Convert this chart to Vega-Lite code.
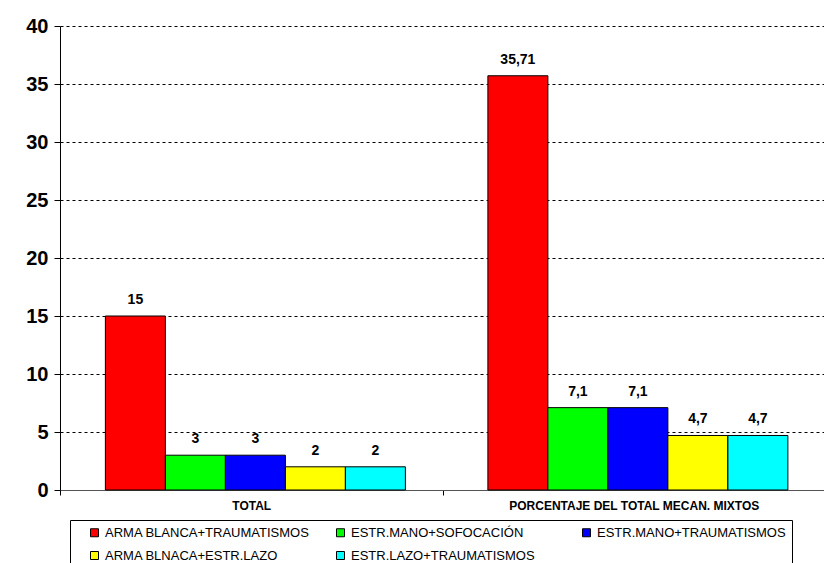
{
  "$schema": "https://vega.github.io/schema/vega-lite/v6.json",
  "width": 765,
  "height": 464,
  "autosize": {"type": "none"},
  "padding": {"left": 60, "top": 26, "right": 0, "bottom": 73},
  "background": "white",
  "config": {
    "font": "Liberation Sans",
    "view": {"stroke": null},
    "axis": {"labelFont": "Liberation Sans", "labelColor": "black", "tickColor": "black", "domainColor": "black"}
  },
  "data": {
    "values": [
      {"grupo": "TOTAL", "serie": "ARMA BLANCA+TRAUMATISMOS", "valor": 15, "etiqueta": "15"},
      {"grupo": "TOTAL", "serie": "ESTR.MANO+SOFOCACIÓN", "valor": 3, "etiqueta": "3"},
      {"grupo": "TOTAL", "serie": "ESTR.MANO+TRAUMATISMOS", "valor": 3, "etiqueta": "3"},
      {"grupo": "TOTAL", "serie": "ARMA BLNACA+ESTR.LAZO", "valor": 2, "etiqueta": "2"},
      {"grupo": "TOTAL", "serie": "ESTR.LAZO+TRAUMATISMOS", "valor": 2, "etiqueta": "2"},
      {"grupo": "PORCENTAJE DEL TOTAL MECAN. MIXTOS", "serie": "ARMA BLANCA+TRAUMATISMOS", "valor": 35.71, "etiqueta": "35,71"},
      {"grupo": "PORCENTAJE DEL TOTAL MECAN. MIXTOS", "serie": "ESTR.MANO+SOFOCACIÓN", "valor": 7.1, "etiqueta": "7,1"},
      {"grupo": "PORCENTAJE DEL TOTAL MECAN. MIXTOS", "serie": "ESTR.MANO+TRAUMATISMOS", "valor": 7.1, "etiqueta": "7,1"},
      {"grupo": "PORCENTAJE DEL TOTAL MECAN. MIXTOS", "serie": "ARMA BLNACA+ESTR.LAZO", "valor": 4.7, "etiqueta": "4,7"},
      {"grupo": "PORCENTAJE DEL TOTAL MECAN. MIXTOS", "serie": "ESTR.LAZO+TRAUMATISMOS", "valor": 4.7, "etiqueta": "4,7"}
    ]
  },
  "encoding": {
    "x": {
      "field": "grupo", "type": "nominal",
      "sort": ["TOTAL", "PORCENTAJE DEL TOTAL MECAN. MIXTOS"],
      "scale": {"paddingInner": 0, "paddingOuter": 0},
      "axis": {"title": null, "labelAngle": 0, "labelFontWeight": "bold", "labelFontSize": 12, "labelLimit": 0, "tickBand": "extent", "tickSize": 5, "labelPadding": 5, "grid": false, "domainColor": "#555555"}
    },
    "xOffset": {
      "field": "serie", "type": "nominal",
      "sort": ["ARMA BLANCA+TRAUMATISMOS", "ESTR.MANO+SOFOCACIÓN", "ESTR.MANO+TRAUMATISMOS", "ARMA BLNACA+ESTR.LAZO", "ESTR.LAZO+TRAUMATISMOS"],
      "scale": {"paddingInner": 0, "paddingOuter": 0.6875, "align": 0.55}
    },
    "y": {
      "field": "valor", "type": "quantitative",
      "scale": {"domain": [0, 40], "nice": false},
      "axis": {"title": null, "values": [0, 5, 10, 15, 20, 25, 30, 35, 40], "labelFontSize": 20, "labelFontWeight": "bold", "tickSize": 6, "labelPadding": 6, "grid": true, "gridColor": "black", "gridDash": [3, 3], "gridWidth": 1, "gridOpacity": 1}
    }
  },
  "layer": [
    {
      "mark": {"type": "bar", "stroke": "black", "strokeWidth": 1},
      "encoding": {
        "color": {
          "field": "serie", "type": "nominal",
          "scale": {
            "domain": ["ARMA BLANCA+TRAUMATISMOS", "ESTR.MANO+SOFOCACIÓN", "ESTR.MANO+TRAUMATISMOS", "ARMA BLNACA+ESTR.LAZO", "ESTR.LAZO+TRAUMATISMOS"],
            "range": ["#ff0000", "#00ff00", "#0000ff", "#ffff00", "#00ffff"]
          },
          "legend": {
            "title": null,
            "orient": "none",
            "legendX": 10,
            "legendY": 494,
            "direction": "horizontal",
            "columns": 3,
            "gridAlign": "all",
            "columnPadding": 12,
            "rowPadding": 9,
            "symbolType": "square",
            "symbolSize": 64,
            "symbolOffset": 12,
            "symbolStrokeColor": "black",
            "symbolStrokeWidth": 1,
            "symbolOpacity": 1,
            "labelFont": "Liberation Sans",
            "labelFontSize": 13,
            "labelColor": "black",
            "labelOffset": 4,
            "labelLimit": 400,
            "strokeColor": "black",
            "fillColor": "white",
            "padding": 6
          }
        }
      }
    },
    {
      "mark": {"type": "text", "baseline": "bottom", "dy": -9, "fontWeight": "bold", "fontSize": 14, "color": "black"},
      "encoding": {"text": {"field": "etiqueta"}}
    }
  ]
}
